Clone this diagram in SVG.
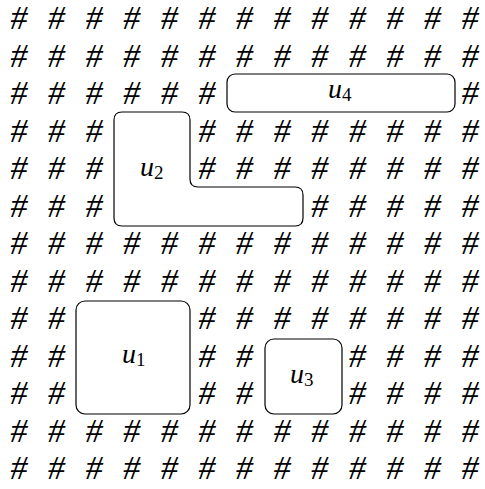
<svg xmlns="http://www.w3.org/2000/svg" width="485" height="489" viewBox="0 0 485 489">
<style>
.h{font-family:"Liberation Serif",serif;font-style:italic;font-size:34px;text-anchor:middle;fill:#000}
.box{fill:#fff;stroke:#000;stroke-width:1.2}
.lbl{font-family:"Liberation Serif",serif;font-style:italic;font-size:28px;fill:#000}
.sub{font-style:normal;font-size:19px}
</style>
<rect width="485" height="489" fill="#fff"/>
<g id="grid">
<g id="r0"><text class="h" x="19" y="29">#</text><text class="h" x="56.6" y="29">#</text><text class="h" x="94.2" y="29">#</text><text class="h" x="131.8" y="29">#</text><text class="h" x="169.4" y="29">#</text><text class="h" x="207" y="29">#</text><text class="h" x="244.6" y="29">#</text><text class="h" x="282.2" y="29">#</text><text class="h" x="319.8" y="29">#</text><text class="h" x="357.4" y="29">#</text><text class="h" x="395" y="29">#</text><text class="h" x="432.6" y="29">#</text><text class="h" x="470.2" y="29">#</text></g>
<g id="r1"><text class="h" x="19" y="66.5">#</text><text class="h" x="56.6" y="66.5">#</text><text class="h" x="94.2" y="66.5">#</text><text class="h" x="131.8" y="66.5">#</text><text class="h" x="169.4" y="66.5">#</text><text class="h" x="207" y="66.5">#</text><text class="h" x="244.6" y="66.5">#</text><text class="h" x="282.2" y="66.5">#</text><text class="h" x="319.8" y="66.5">#</text><text class="h" x="357.4" y="66.5">#</text><text class="h" x="395" y="66.5">#</text><text class="h" x="432.6" y="66.5">#</text><text class="h" x="470.2" y="66.5">#</text></g>
<g id="r2"><text class="h" x="19" y="104">#</text><text class="h" x="56.6" y="104">#</text><text class="h" x="94.2" y="104">#</text><text class="h" x="131.8" y="104">#</text><text class="h" x="169.4" y="104">#</text><text class="h" x="207" y="104">#</text><text class="h" x="470.2" y="104">#</text></g>
<g id="r3"><text class="h" x="19" y="141.5">#</text><text class="h" x="56.6" y="141.5">#</text><text class="h" x="94.2" y="141.5">#</text><text class="h" x="207" y="141.5">#</text><text class="h" x="244.6" y="141.5">#</text><text class="h" x="282.2" y="141.5">#</text><text class="h" x="319.8" y="141.5">#</text><text class="h" x="357.4" y="141.5">#</text><text class="h" x="395" y="141.5">#</text><text class="h" x="432.6" y="141.5">#</text><text class="h" x="470.2" y="141.5">#</text></g>
<g id="r4"><text class="h" x="19" y="179">#</text><text class="h" x="56.6" y="179">#</text><text class="h" x="94.2" y="179">#</text><text class="h" x="207" y="179">#</text><text class="h" x="244.6" y="179">#</text><text class="h" x="282.2" y="179">#</text><text class="h" x="319.8" y="179">#</text><text class="h" x="357.4" y="179">#</text><text class="h" x="395" y="179">#</text><text class="h" x="432.6" y="179">#</text><text class="h" x="470.2" y="179">#</text></g>
<g id="r5"><text class="h" x="19" y="216.5">#</text><text class="h" x="56.6" y="216.5">#</text><text class="h" x="94.2" y="216.5">#</text><text class="h" x="319.8" y="216.5">#</text><text class="h" x="357.4" y="216.5">#</text><text class="h" x="395" y="216.5">#</text><text class="h" x="432.6" y="216.5">#</text><text class="h" x="470.2" y="216.5">#</text></g>
<g id="r6"><text class="h" x="19" y="254">#</text><text class="h" x="56.6" y="254">#</text><text class="h" x="94.2" y="254">#</text><text class="h" x="131.8" y="254">#</text><text class="h" x="169.4" y="254">#</text><text class="h" x="207" y="254">#</text><text class="h" x="244.6" y="254">#</text><text class="h" x="282.2" y="254">#</text><text class="h" x="319.8" y="254">#</text><text class="h" x="357.4" y="254">#</text><text class="h" x="395" y="254">#</text><text class="h" x="432.6" y="254">#</text><text class="h" x="470.2" y="254">#</text></g>
<g id="r7"><text class="h" x="19" y="291.5">#</text><text class="h" x="56.6" y="291.5">#</text><text class="h" x="94.2" y="291.5">#</text><text class="h" x="131.8" y="291.5">#</text><text class="h" x="169.4" y="291.5">#</text><text class="h" x="207" y="291.5">#</text><text class="h" x="244.6" y="291.5">#</text><text class="h" x="282.2" y="291.5">#</text><text class="h" x="319.8" y="291.5">#</text><text class="h" x="357.4" y="291.5">#</text><text class="h" x="395" y="291.5">#</text><text class="h" x="432.6" y="291.5">#</text><text class="h" x="470.2" y="291.5">#</text></g>
<g id="r8"><text class="h" x="19" y="329">#</text><text class="h" x="56.6" y="329">#</text><text class="h" x="207" y="329">#</text><text class="h" x="244.6" y="329">#</text><text class="h" x="282.2" y="329">#</text><text class="h" x="319.8" y="329">#</text><text class="h" x="357.4" y="329">#</text><text class="h" x="395" y="329">#</text><text class="h" x="432.6" y="329">#</text><text class="h" x="470.2" y="329">#</text></g>
<g id="r9"><text class="h" x="19" y="366.5">#</text><text class="h" x="56.6" y="366.5">#</text><text class="h" x="207" y="366.5">#</text><text class="h" x="244.6" y="366.5">#</text><text class="h" x="357.4" y="366.5">#</text><text class="h" x="395" y="366.5">#</text><text class="h" x="432.6" y="366.5">#</text><text class="h" x="470.2" y="366.5">#</text></g>
<g id="r10"><text class="h" x="19" y="404">#</text><text class="h" x="56.6" y="404">#</text><text class="h" x="207" y="404">#</text><text class="h" x="244.6" y="404">#</text><text class="h" x="357.4" y="404">#</text><text class="h" x="395" y="404">#</text><text class="h" x="432.6" y="404">#</text><text class="h" x="470.2" y="404">#</text></g>
<g id="r11"><text class="h" x="19" y="441.5">#</text><text class="h" x="56.6" y="441.5">#</text><text class="h" x="94.2" y="441.5">#</text><text class="h" x="131.8" y="441.5">#</text><text class="h" x="169.4" y="441.5">#</text><text class="h" x="207" y="441.5">#</text><text class="h" x="244.6" y="441.5">#</text><text class="h" x="282.2" y="441.5">#</text><text class="h" x="319.8" y="441.5">#</text><text class="h" x="357.4" y="441.5">#</text><text class="h" x="395" y="441.5">#</text><text class="h" x="432.6" y="441.5">#</text><text class="h" x="470.2" y="441.5">#</text></g>
<g id="r12"><text class="h" x="19" y="479">#</text><text class="h" x="56.6" y="479">#</text><text class="h" x="94.2" y="479">#</text><text class="h" x="131.8" y="479">#</text><text class="h" x="169.4" y="479">#</text><text class="h" x="207" y="479">#</text><text class="h" x="244.6" y="479">#</text><text class="h" x="282.2" y="479">#</text><text class="h" x="319.8" y="479">#</text><text class="h" x="357.4" y="479">#</text><text class="h" x="395" y="479">#</text><text class="h" x="432.6" y="479">#</text><text class="h" x="470.2" y="479">#</text></g>
</g>
<g id="u4"><rect class="box" x="227" y="74" width="228" height="38" rx="8"/><text class="lbl" x="328" y="98">u<tspan class="sub" dy="3">4</tspan></text></g>
<g id="u2"><path class="box" d="M122,112 H182 Q190,112 190,120 V179 Q190,187 198,187 H295 Q303,187 303,195 V218 Q303,226 295,226 H122 Q114,226 114,218 V120 Q114,112 122,112 Z"/><text class="lbl" x="140" y="176">u<tspan class="sub" dy="3">2</tspan></text></g>
<g id="u1"><rect class="box" x="76" y="301" width="114" height="113" rx="9"/><text class="lbl" x="122" y="363">u<tspan class="sub" dy="3">1</tspan></text></g>
<g id="u3"><rect class="box" x="265" y="339" width="77" height="75" rx="9"/><text class="lbl" x="290" y="383">u<tspan class="sub" dy="3">3</tspan></text></g>
<g id="connectors"/>
</svg>
